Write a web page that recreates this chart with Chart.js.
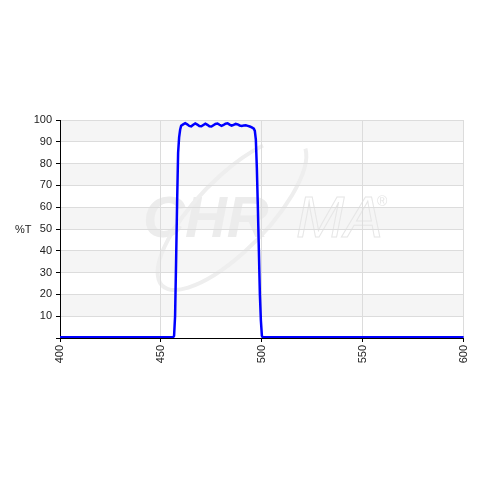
<!DOCTYPE html>
<html>
<head>
<meta charset="utf-8">
<script src="https://cdn.jsdelivr.net/npm/chart.js@4/dist/chart.umd.min.js"></script>
<style>
  html, body { margin: 0; padding: 0; background: #fff; }
  #wrap { width: 480px; height: 480px; }
</style>
</head>
<body>
<div id="wrap"><canvas id="chart" width="480" height="480"></canvas></div>
<script>
// wavelength (nm) and transmission (%T)
const wavelengths = [400, 456, 456.5, 457, 457.5, 458, 458.5, 459, 459.5, 460,
  461, 462, 463, 464, 465, 466, 467, 468, 469, 470,
  471, 472, 473, 474, 475, 476, 477, 478, 479, 480,
  481, 482, 483, 484, 485, 486, 487, 488, 489, 490,
  491, 492, 493, 494, 495, 496, 496.5, 497, 497.5, 498,
  498.5, 499, 499.5, 500, 500.5, 600];
const transmission = [0.3, 0.3, 1, 10, 35, 62, 85, 92, 95.5, 97.4,
  98.0, 98.5, 98.0, 97.3, 97.1, 97.8, 98.4, 97.9, 97.2, 97.1,
  97.7, 98.3, 97.8, 97.1, 97.0, 97.6, 98.2, 98.4, 97.8, 97.3,
  97.7, 98.3, 98.5, 97.9, 97.4, 97.8, 98.2, 98.0, 97.5, 97.3,
  97.5, 97.6, 97.3, 97.0, 96.6, 96.0, 95.0, 91, 78, 60,
  40, 20, 8, 1, 0.3, 0.3];
const xTicks = [400, 450, 500, 550, 600];
const yTicks = [10, 20, 30, 40, 50, 60, 70, 80, 90, 100];

const points = wavelengths.map((w, i) => ({ x: w, y: transmission[i] }));

const backdrop = {
  id: 'backdrop',
  beforeDraw(chart) {
    const { ctx, chartArea: a, scales: { y } } = chart;
    ctx.save();
    // alternating bands
    ctx.fillStyle = '#f5f5f5';
    for (let v = 10; v < 100; v += 20) {
      const top = y.getPixelForValue(v + 10);
      const bot = y.getPixelForValue(v);
      ctx.fillRect(a.left, top, a.right - a.left, bot - top);
    }
    // watermark
    ctx.fillStyle = '#ececec';
    ctx.font = 'italic bold 58px "Liberation Sans", Arial, sans-serif';
    ctx.textBaseline = 'alphabetic';
    ctx.fillText('CHR', 143, 237);
    ctx.strokeStyle = '#e6e6e6';
    ctx.lineWidth = 1;
    ctx.font = 'italic 58px "Liberation Sans", Arial, sans-serif';
    ctx.strokeText('MA', 296, 237);
    ctx.font = '14px "Liberation Sans", Arial, sans-serif';
    ctx.fillStyle = '#e6e6e6';
    ctx.fillText('\u00ae', 377, 206);
    ctx.beginPath();
    ctx.lineWidth = 4;
    ctx.strokeStyle = '#eeeeee';
    ctx.ellipse(232, 214, 100, 36, -0.8, 0.2, Math.PI * 1.75);
    ctx.stroke();
    ctx.restore();
  },
  afterDraw(chart) {
    const { ctx } = chart;
    ctx.save();
    ctx.fillStyle = '#222';
    ctx.font = '11px "Liberation Sans", Arial, sans-serif';
    ctx.textAlign = 'left';
    ctx.textBaseline = 'middle';
    ctx.fillText('%T', 15, 230);
    ctx.restore();
  }
};

new Chart(document.getElementById('chart').getContext('2d'), {
  type: 'line',
  data: {
    datasets: [{
      data: points,
      borderColor: '#0000ff',
      borderWidth: 2.5,
      pointRadius: 0,
      tension: 0,
      fill: false
    }]
  },
  options: {
    responsive: false,
    animation: false,
    layout: { padding: { left: 0, top: 120, right: 15, bottom: 0 } },
    plugins: { legend: { display: false }, tooltip: { enabled: false } },
    scales: {
      x: {
        type: 'linear',
        min: 400,
        max: 600,
        afterBuildTicks: s => { s.ticks = xTicks.map(v => ({ value: v })); },
        afterFit: s => { s.height = 142; },
        ticks: {
          minRotation: 90,
          maxRotation: 90,
          padding: 3,
          color: '#222',
          font: { family: '"Liberation Sans", Arial, sans-serif', size: 11 }
        },
        grid: { color: '#dcdcdc', tickColor: '#000', tickLength: 4 },
        border: { color: '#000', width: 1 }
      },
      y: {
        min: 0,
        max: 100,
        afterBuildTicks: s => { s.ticks = [0].concat(yTicks).map(v => ({ value: v })); },
        afterFit: s => { s.width = 60; },
        ticks: {
          padding: 4,
          color: '#222',
          callback: v => (v === 0 ? '' : v),
          font: { family: '"Liberation Sans", Arial, sans-serif', size: 11 }
        },
        grid: { color: '#dcdcdc', tickColor: '#000', tickLength: 4 },
        border: { color: '#000', width: 1 }
      }
    }
  },
  plugins: [backdrop]
});
</script>
</body>
</html>
